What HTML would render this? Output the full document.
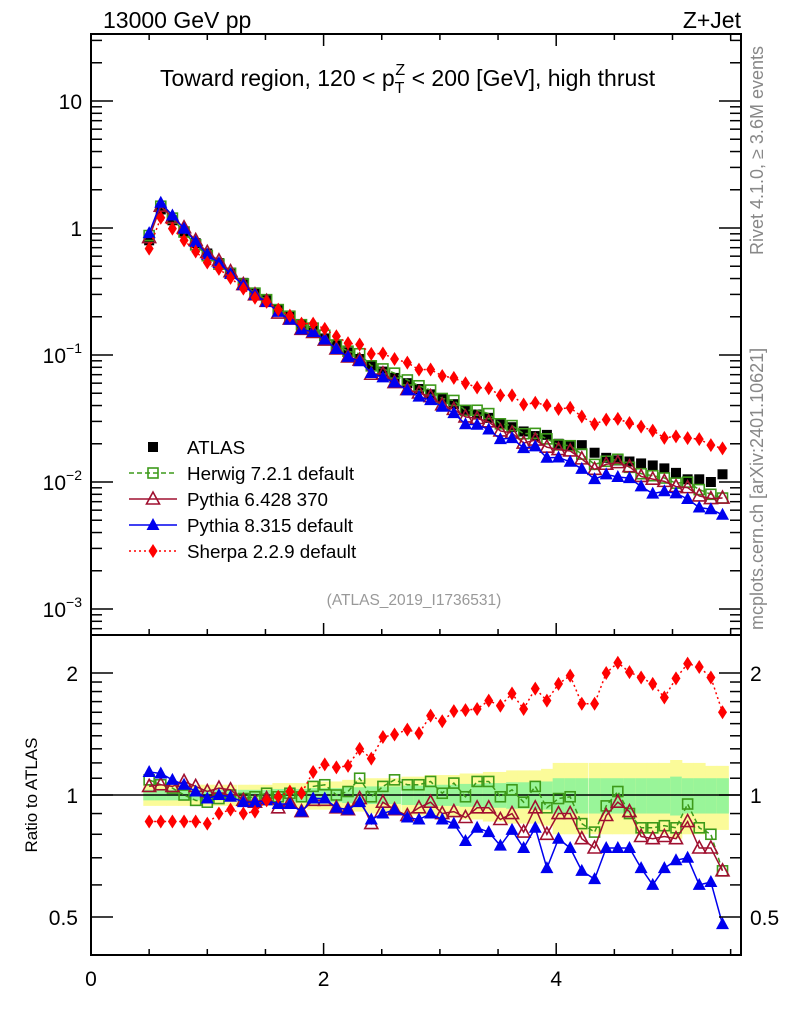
<!DOCTYPE html>
<html><head><meta charset="utf-8"><style>
body{margin:0;background:#fff;}
svg{display:block;font-family:"Liberation Sans",sans-serif;}
</style></head><body>
<svg id="chart" width="786" height="1024" viewBox="0 0 786 1024" xmlns="http://www.w3.org/2000/svg">
<defs>
<clipPath id="cm"><rect x="91" y="34" width="650" height="601"/></clipPath>
<clipPath id="cr"><rect x="91" y="635" width="650" height="320"/></clipPath>
</defs>
<g id="band" clip-path="url(#cr)"></g>
<line x1="91" y1="795" x2="741" y2="795" stroke="#000" stroke-width="1.5"/>
<g id="ratio" clip-path="url(#cr)"></g>
<g id="main" clip-path="url(#cm)"></g>
<g id="axes"></g>
<rect x="91" y="34" width="650" height="601" fill="none" stroke="#000" stroke-width="2"/>
<rect x="91" y="635" width="650" height="320" fill="none" stroke="#000" stroke-width="2"/>
<text x="103" y="28" font-size="23">13000 GeV pp</text>
<text x="741" y="28" font-size="23" text-anchor="end">Z+Jet</text>
<text x="160" y="86" font-size="23">Toward region, 120 &lt; p<tspan font-size="16" dy="7">T</tspan><tspan font-size="16" dx="-9" dy="-18">Z</tspan><tspan dy="11"> &lt; 200 [GeV], high thrust</tspan></text>
<text transform="translate(763,255) rotate(-90)" font-size="18" fill="#888">Rivet 4.1.0, ≥ 3.6M events</text>
<text transform="translate(763,630) rotate(-90)" font-size="18" fill="#888">mcplots.cern.ch [arXiv:2401.10621]</text>
<text x="414" y="605" font-size="15.5" fill="#999" text-anchor="middle">(ATLAS_2019_I1736531)</text>
<text transform="translate(37,795) rotate(-90)" font-size="17" text-anchor="middle">Ratio to ATLAS</text>
<g id="legend"></g>
</svg>
<script>
const xs=[0.50,0.60,0.70,0.80,0.90,1.00,1.10,1.20,1.31,1.41,1.51,1.61,1.71,1.81,1.91,2.01,2.11,2.21,2.31,2.41,2.51,2.61,2.72,2.82,2.92,3.02,3.12,3.22,3.32,3.42,3.52,3.62,3.72,3.82,3.92,4.02,4.12,4.22,4.33,4.43,4.53,4.63,4.73,4.83,4.93,5.03,5.13,5.23,5.33,5.43];
const atlas=[0.80,1.40,1.15,0.93,0.76,0.63,0.53,0.44,0.37,0.31,0.27,0.23,0.20,0.175,0.155,0.135,0.12,0.105,0.093,0.083,0.074,0.066,0.060,0.054,0.049,0.045,0.041,0.037,0.034,0.032,0.029,0.027,0.025,0.023,0.0235,0.020,0.0195,0.0195,0.017,0.0155,0.0148,0.0145,0.0140,0.0135,0.0128,0.0118,0.0105,0.0105,0.0100,0.0115];
const herwigRatio=[1.09,1.06,1.04,1.0,0.97,0.96,0.98,1.0,0.98,0.99,1.01,0.99,1.01,0.99,1.05,1.06,1.0,1.02,1.10,0.99,1.05,1.09,1.06,1.06,1.08,1.01,1.07,0.99,1.08,1.08,0.99,1.03,0.96,1.05,0.93,0.98,0.99,0.85,0.81,0.94,1.02,0.90,0.83,0.83,0.84,0.83,0.95,0.83,0.80,0.65];
const py6Ratio=[1.05,1.06,1.05,1.08,1.05,1.02,1.04,1.03,0.97,0.96,0.98,0.93,0.96,0.91,0.97,0.97,0.93,0.92,0.98,0.85,0.96,0.92,0.89,0.93,0.96,0.90,0.91,0.88,0.93,0.93,0.87,0.90,0.81,0.93,0.80,0.90,0.90,0.78,0.74,0.89,0.96,0.91,0.79,0.78,0.79,0.78,0.86,0.74,0.74,0.65];
const py8Ratio=[1.14,1.13,1.09,1.06,1.02,0.98,1.0,0.99,0.96,0.96,0.97,0.95,0.95,0.91,0.98,0.98,0.93,0.92,0.96,0.87,0.90,0.92,0.88,0.87,0.90,0.87,0.85,0.77,0.83,0.81,0.75,0.82,0.74,0.83,0.66,0.78,0.74,0.65,0.62,0.74,0.74,0.74,0.66,0.60,0.66,0.69,0.70,0.60,0.61,0.48];
const sherpaRatio=[0.86,0.86,0.86,0.86,0.86,0.85,0.90,0.92,0.90,0.91,0.97,0.99,1.02,1.01,1.14,1.19,1.17,1.18,1.30,1.23,1.39,1.41,1.45,1.42,1.57,1.52,1.61,1.62,1.63,1.71,1.66,1.78,1.63,1.83,1.71,1.88,1.97,1.68,1.68,2.0,2.12,2.01,1.95,1.88,1.74,1.94,2.11,2.07,1.95,1.60];
const err1=[0.03,0.03,0.03,0.03,0.03,0.03,0.03,0.03,0.03,0.03,0.03,0.035,0.035,0.035,0.04,0.04,0.04,0.045,0.045,0.05,0.05,0.05,0.055,0.055,0.06,0.06,0.06,0.065,0.065,0.07,0.07,0.075,0.075,0.08,0.08,0.10,0.10,0.10,0.10,0.10,0.10,0.10,0.10,0.10,0.10,0.11,0.10,0.10,0.10,0.10];
const err2=[0.06,0.06,0.06,0.06,0.06,0.06,0.06,0.06,0.06,0.06,0.06,0.07,0.07,0.07,0.08,0.08,0.08,0.09,0.09,0.10,0.10,0.10,0.11,0.11,0.12,0.12,0.12,0.13,0.13,0.14,0.14,0.15,0.15,0.15,0.16,0.20,0.20,0.20,0.20,0.20,0.20,0.20,0.20,0.20,0.20,0.22,0.20,0.20,0.18,0.18];
const xTicks=[0,2,4];
const mainTicks=[10,1,0.1,0.01,0.001];
const ratioTicks=[0.5,1,2];

const NS='http://www.w3.org/2000/svg';
const X=x=>91+x*116.3;
const Y=v=>228-127*Math.log10(v);
const R=r=>795-122*Math.log2(r);
function mk(tag,attrs,parent){const e=document.createElementNS(NS,tag);for(const k in attrs)e.setAttribute(k,attrs[k]);parent.appendChild(e);return e;}
const gBand=document.getElementById('band'),gMain=document.getElementById('main'),gRatio=document.getElementById('ratio'),gAx=document.getElementById('axes'),gLeg=document.getElementById('legend');

for(let i=0;i<xs.length;i++){
  const x0=X(xs[i]-0.0503),x1=X(xs[i]+0.0503);
  const y=mk('rect',{x:x0,y:R(1+err2[i]),width:x1-x0+0.5,height:R(1-err2[i])-R(1+err2[i]),fill:'#fbfb99'},gBand);
  
  
  const g=mk('rect',{x:x0,y:R(1+err1[i]),width:x1-x0+0.5,height:R(1-err1[i])-R(1+err1[i]),fill:'#99f599'},gBand);
  
  
}

function marker(type,cx,cy,color,parent,name){
  let e;
  if(type==='sq') e=mk('rect',{x:cx-5,y:cy-5,width:10,height:10,fill:'#000'},parent);
  else if(type==='osq') e=mk('rect',{x:cx-5,y:cy-5,width:10,height:10,fill:'none',stroke:color,'stroke-width':1.6},parent);
  else if(type==='otri') e=mk('polygon',{points:`${cx},${cy-7} ${cx-6.5},${cy+5} ${cx+6.5},${cy+5}`,fill:'none',stroke:color,'stroke-width':1.6},parent);
  else if(type==='tri') e=mk('polygon',{points:`${cx},${cy-7} ${cx-6.5},${cy+5} ${cx+6.5},${cy+5}`,fill:color},parent);
  else e=mk('polygon',{points:`${cx},${cy-7} ${cx-4.5},${cy} ${cx},${cy+7} ${cx+4.5},${cy}`,fill:color},parent);
  
  
  return e;
}
const series=[
 {name:'herwig',r:herwigRatio,color:'#3d9a1a',type:'osq',dash:'5,3'},
 {name:'pythia6',r:py6Ratio,color:'#a01030',type:'otri',dash:''},
 {name:'pythia8',r:py8Ratio,color:'#0000ee',type:'tri',dash:''},
 {name:'sherpa',r:sherpaRatio,color:'#ff0000',type:'dia',dash:'2,3'}
];
for(let i=0;i<xs.length;i++){marker('sq',X(xs[i]),Y(atlas[i]),'#000',gMain,'atlas-point');}
for(const s of series){
  const ptsM=xs.map((x,i)=>`${X(x)},${Y(atlas[i]*s.r[i])}`).join(' ');
  const lm=mk('polyline',{points:ptsM,fill:'none',stroke:s.color,'stroke-width':1.5,'stroke-dasharray':s.dash},gMain);
  
  
  const ptsR=xs.map((x,i)=>`${X(x)},${R(s.r[i])}`).join(' ');
  const lr=mk('polyline',{points:ptsR,fill:'none',stroke:s.color,'stroke-width':1.5,'stroke-dasharray':s.dash},gRatio);
  
  
  for(let i=0;i<xs.length;i++){
    marker(s.type,X(xs[i]),Y(atlas[i]*s.r[i]),s.color,gMain,s.name+'-point');
    marker(s.type,X(xs[i]),R(s.r[i]),s.color,gRatio,s.name+'-ratio-point');
  }
}
function tk(x1,y1,x2,y2){const l=mk('line',{x1,y1,x2,y2,stroke:'#000','stroke-width':1.5},gAx);}
function lbl(x,y,t,anchor,name){const e=mk('text',{x,y,'font-size':21,'text-anchor':anchor},gAx);e.textContent=t;return e;}
for(let v=0;v<=5.5;v+=0.5){
  const major=xTicks.includes(v);const L=major?12:6;
  tk(X(v),955,X(v),955-L);tk(X(v),635,X(v),635-L);tk(X(v),34,X(v),34+L);
}
xTicks.forEach(v=>lbl(X(v),986,String(v),'middle','x-tick-label'));
for(let d=-4;d<=1;d++){
  for(let m=1;m<10;m++){
    const v=m*Math.pow(10,d);const y=Y(v);if(y<35||y>634)continue;
    const L=m===1?22:11;tk(91,y,91+L,y);tk(741,y,741-L,y);
  }
}
mainTicks.forEach(v=>{
  const y=Y(v);const e=mk('text',{x:82,y:y+8,'font-size':21,'text-anchor':'end'},gAx);
  
  
  const d=Math.round(Math.log10(v));
  if(d>=0){e.textContent=String(v);}else{e.textContent='10';const t=mk('tspan',{'font-size':14,dy:-10},e);t.textContent='−'+(-d);}
});
const rMinor=[0.5,0.6,0.7,0.8,0.9,1,1.1,1.2,1.3,1.4,1.5,1.6,1.7,1.8,1.9,2];
rMinor.forEach(v=>{const y=R(v);const L=ratioTicks.includes(v)?22:11;tk(91,y,91+L,y);tk(741,y,741-L,y);});
ratioTicks.forEach(v=>{lbl(78,R(v)+8,String(v),'end','ratio-tick-label-left');lbl(750,R(v)+8,String(v),'start','ratio-tick-label-right');});
const legItems=[
 {t:'ATLAS',type:'sq',color:'#000',dash:null},
 {t:'Herwig 7.2.1 default',type:'osq',color:'#3d9a1a',dash:'5,3'},
 {t:'Pythia 6.428 370',type:'otri',color:'#a01030',dash:''},
 {t:'Pythia 8.315 default',type:'tri',color:'#0000ee',dash:''},
 {t:'Sherpa 2.2.9 default',type:'dia',color:'#ff0000',dash:'2,3'}
];
legItems.forEach((it,k)=>{
  const y=447+26*k;
  if(it.dash!==null){const l=mk('line',{x1:129,y1:y,x2:177,y2:y,stroke:it.color,'stroke-width':1.5,'stroke-dasharray':it.dash},gLeg);}
  marker(it.type,153,y,it.color,gLeg,'legend-marker');
  const e=mk('text',{x:187,y:y+7,'font-size':18.8},gLeg);e.textContent=it.t;
  
  
});
</script>
</body></html>
